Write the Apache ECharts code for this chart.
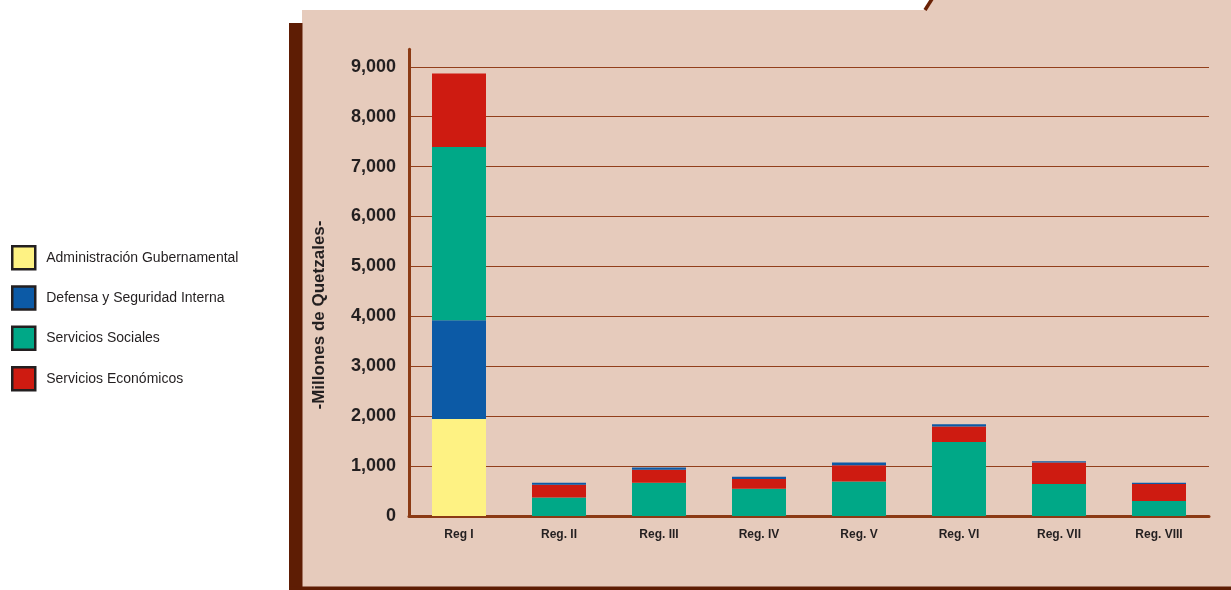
<!DOCTYPE html>
<html>
<head>
<meta charset="utf-8">
<script src="https://cdn.jsdelivr.net/npm/echarts@6/dist/echarts.min.js"></script>
<style>
html,body{margin:0;padding:0;background:#ffffff;}
#chart{width:1231px;height:590px;}
</style>
</head>
<body>
<div id="chart"></div>
<script>
var categories = ['Reg I', 'Reg. II', 'Reg. III', 'Reg. IV', 'Reg. V', 'Reg. VI', 'Reg. VII', 'Reg. VIII'];
var administracion = [1944, 0, 0, 0, 0, 0, 0, 0];
var defensa = [1976, 40, 41, 47, 55, 46, 26, 27];
var sociales = [3472, 370, 667, 545, 693, 1481, 640, 303];
var economicos = [1474, 256, 262, 196, 323, 311, 431, 337];
var yTicks = [0, 1000, 2000, 3000, 4000, 5000, 6000, 7000, 8000, 9000];

var names = ['Administración Gubernamental', 'Defensa y Seguridad Interna', 'Servicios Sociales', 'Servicios Económicos'];
var colors = ['#FEF283', '#0C5AA6', '#00A887', '#CE1B11'];

// Reg I stacks Defensa below Sociales; the other regions put it on top.
var defensaLow = defensa.map(function (v, i) { return i === 0 ? v : '-'; });
var defensaTop = defensa.map(function (v, i) { return i === 0 ? '-' : v; });

function bar(name, data, color) {
  return {
    name: name, type: 'bar', stack: 'total', data: data, barWidth: 54,
    itemStyle: { color: color }, emphasis: { disabled: true }
  };
}

var chart = echarts.init(document.getElementById('chart'));
chart.setOption({
  backgroundColor: '#ffffff',
  animation: false,
  color: colors,
  graphic: [
    { type: 'polygon', z: -10, shape: { points: [[302, 10], [924, 10], [931, 0], [1231, 0], [1231, 587], [302, 587]] }, style: { fill: '#E6CBBC' } },
    { type: 'rect', z: -9, shape: { x: 289, y: 23, width: 13.5, height: 567 }, style: { fill: '#5E1D04' } },
    { type: 'rect', z: -9, shape: { x: 289, y: 586.5, width: 942, height: 3.5 }, style: { fill: '#5E1D04' } },
    { type: 'line', z: -9, shape: { x1: 925, y1: 10, x2: 932, y2: -1 }, style: { stroke: '#6A2207', lineWidth: 3.5 } },
    { type: 'text', z: 5, x: 319, y: 315, rotation: Math.PI / 2,
      style: { text: '-Millones de Quetzales-', font: 'bold 17px "Liberation Sans", Arial, sans-serif', fill: '#231F20', textAlign: 'center', textVerticalAlign: 'middle' } }
  ],
  legend: {
    data: names,
    orient: 'vertical',
    left: 11,
    top: 245,
    padding: 0,
    itemWidth: 23,
    itemHeight: 23,
    itemGap: 14.8,
    icon: 'rect',
    itemStyle: { borderColor: '#231F20', borderWidth: 2.5 },
    textStyle: { fontFamily: '"Liberation Sans", Arial, sans-serif', fontSize: 14, color: '#231F20', padding: [0, 0, 0, 6] }
  },
  grid: { left: 409, right: 22, top: 49.3, bottom: 74, containLabel: false },
  xAxis: {
    type: 'category',
    data: categories,
    axisTick: { show: false },
    axisLine: { lineStyle: { color: '#8B3A14', width: 3 } },
    axisLabel: { margin: 13, fontFamily: '"Liberation Sans", Arial, sans-serif', fontWeight: 'bold', fontSize: 12, color: '#231F20' }
  },
  yAxis: {
    type: 'value',
    min: yTicks[0],
    max: 9350,
    interval: yTicks[1] - yTicks[0],
    axisLine: { show: true, lineStyle: { color: '#8B3A14', width: 3 } },
    axisTick: { show: false },
    axisLabel: {
      margin: 13, showMaxLabel: false,
      fontFamily: '"Liberation Sans", Arial, sans-serif', fontWeight: 'bold', fontSize: 18, color: '#231F20',
      formatter: function (v) { return yTicks.indexOf(v) >= 0 ? v.toLocaleString('en-US') : ''; }
    },
    splitLine: { show: true, showMaxLine: false, lineStyle: { color: '#923F1B', width: 1 } }
  },
  series: [
    bar(names[0], administracion, colors[0]),
    bar(names[1], defensaLow, colors[1]),
    bar(names[2], sociales, colors[2]),
    bar(names[3], economicos, colors[3]),
    bar(names[1], defensaTop, colors[1])
  ]
});
</script>
</body>
</html>
